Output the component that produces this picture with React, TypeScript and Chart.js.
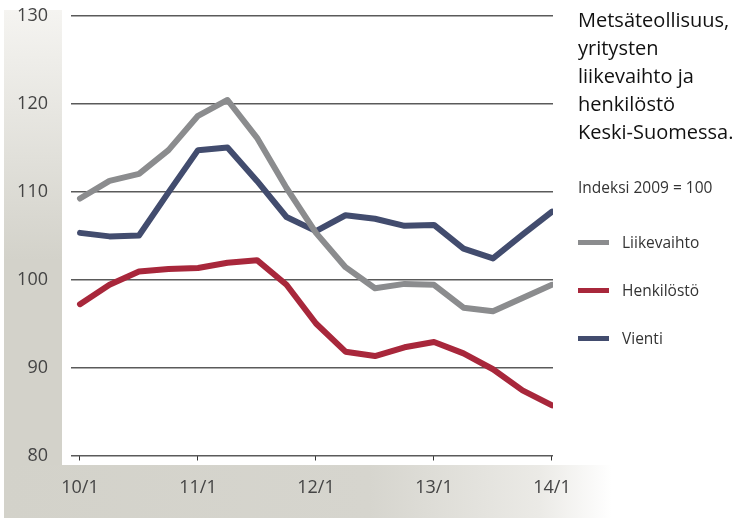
import React, { useEffect, useRef } from "react";
import { Chart, registerables } from "chart.js";

Chart.register(...registerables);

const quarters = [
  "10/1", "10/2", "10/3", "10/4",
  "11/1", "11/2", "11/3", "11/4",
  "12/1", "12/2", "12/3", "12/4",
  "13/1", "13/2", "13/3", "13/4",
  "14/1",
];
const shownTickIdx = [0, 4, 8, 12, 16];
const yTicks = [80, 90, 100, 110, 120, 130];

const liikevaihto = [109.2, 111.2, 112.0, 114.7, 118.6, 120.4, 116.1, 110.4, 105.3, 101.4, 99.0, 99.5, 99.4, 96.8, 96.4, 97.9, 99.4];
const henkilosto = [97.2, 99.4, 100.9, 101.2, 101.3, 101.9, 102.2, 99.4, 95.0, 91.8, 91.3, 92.3, 92.9, 91.6, 89.8, 87.4, 85.7];
const vienti = [105.3, 104.9, 105.0, 109.9, 114.7, 115.0, 111.2, 107.1, 105.5, 107.3, 106.9, 106.1, 106.2, 103.5, 102.4, 105.1, 107.7];

const seriesNames = ["Liikevaihto", "Henkilöstö", "Vienti"];
const seriesColors = ["#8b8c8e", "#a8273b", "#424c6e"];
const seriesData = [liikevaihto, henkilosto, vienti];

const titleLines = ["Metsäteollisuus,", "yritysten", "liikevaihto ja", "henkilöstö", "Keski-Suomessa."];
const subtitle = "Indeksi 2009 = 100";

const FONT = "'Open Sans', 'Noto Sans', sans-serif";

const bgPlugin = {
  id: "bgPanels",
  beforeDraw(chart: any) {
    const ctx = chart.ctx;
    ctx.save();
    // left vertical panel
    const g1 = ctx.createLinearGradient(0, 10, 0, 260);
    g1.addColorStop(0, "#f5f4f1");
    g1.addColorStop(1, "#d3d2ca");
    ctx.fillStyle = g1;
    ctx.fillRect(4, 10, 58, 508);
    // bottom band
    const g2 = ctx.createLinearGradient(4, 0, 612, 0);
    g2.addColorStop(0, "#d3d2ca");
    g2.addColorStop(0.6, "#d6d5ce");
    g2.addColorStop(0.88, "#ebeae6");
    g2.addColorStop(1, "#ffffff");
    ctx.fillStyle = g2;
    ctx.fillRect(4, 465, 608, 53);
    ctx.restore();
  },
};

export default function App() {
  const ref = useRef<HTMLCanvasElement>(null);
  useEffect(() => {
    document.body.style.margin = "0";
    const chart = new Chart(ref.current as HTMLCanvasElement, {
      type: "line",
      data: {
        datasets: seriesData.map((arr, i) => ({
          label: seriesNames[i],
          data: arr.map((v, j) => ({ x: j, y: v })),
          borderColor: seriesColors[i],
          backgroundColor: seriesColors[i],
          borderWidth: 6,
          pointRadius: 0,
          tension: 0,
          borderJoinStyle: "round" as const,
          borderCapStyle: "round" as const,
          fill: false,
        })),
      },
      options: {
        animation: false,
        responsive: false,
        maintainAspectRatio: false,
        layout: { padding: { left: 0, right: 182, top: 15.5, bottom: 0 } },
        plugins: { legend: { display: false }, tooltip: { enabled: false }, title: { display: false } },
        scales: {
          x: {
            type: "linear",
            min: -0.305,
            max: 16.034,
            afterBuildTicks: (scale: any) => {
              scale.ticks = shownTickIdx.map((v) => ({ value: v }));
            },
            afterFit: (scale: any) => {
              scale.height = 62.5;
              scale.paddingLeft = 0;
              scale.paddingRight = 0;
            },
            border: { display: false },
            grid: { drawOnChartArea: false, drawTicks: true, tickLength: 5, color: "#333", lineWidth: 1 },
            ticks: {
              autoSkip: false,
              maxRotation: 0,
              padding: 17,
              color: "#444",
              font: { family: FONT, size: 18 },
              callback: (v: any) => quarters[Number(v)] ?? "",
            },
          },
          y: {
            min: 80,
            max: 130,
            afterBuildTicks: (scale: any) => {
              scale.ticks = yTicks.map((v) => ({ value: v }));
            },
            afterFit: (scale: any) => {
              scale.width = 71;
              scale.paddingTop = 0;
              scale.paddingBottom = 0;
            },
            border: { display: false },
            grid: { drawTicks: false, color: "#5a5a5a", lineWidth: 1.5 },
            ticks: {
              padding: 23,
              color: "#444",
              font: { family: FONT, size: 18 },
            },
          },
        },
      },
      plugins: [bgPlugin],
    });
    return () => chart.destroy();
  }, []);

  return (
    <div style={{ position: "fixed", left: 0, top: 0, width: 735, height: 518, background: "#fff", fontFamily: FONT }}>
      <canvas ref={ref} width={735} height={518} style={{ position: "absolute", left: 0, top: 0 }} />
      <div style={{ position: "absolute", left: 578, top: 6, fontSize: 20, lineHeight: "28px", color: "#111", whiteSpace: "nowrap" }}>
        {titleLines.map((t, i) => (
          <div key={i}>{t}</div>
        ))}
      </div>
      <div style={{ position: "absolute", left: 578, top: 176, fontSize: 15.5, lineHeight: "22px", color: "#333", whiteSpace: "nowrap" }}>
        {subtitle}
      </div>
      {seriesNames.map((n, i) => (
        <div key={n} style={{ position: "absolute", left: 578, top: 230 + i * 48, height: 24, display: "flex", alignItems: "center", whiteSpace: "nowrap" }}>
          <div style={{ width: 31, height: 5, background: seriesColors[i], marginRight: 13 }} />
          <div style={{ fontSize: 15.5, color: "#333" }}>{n}</div>
        </div>
      ))}
    </div>
  );
}
